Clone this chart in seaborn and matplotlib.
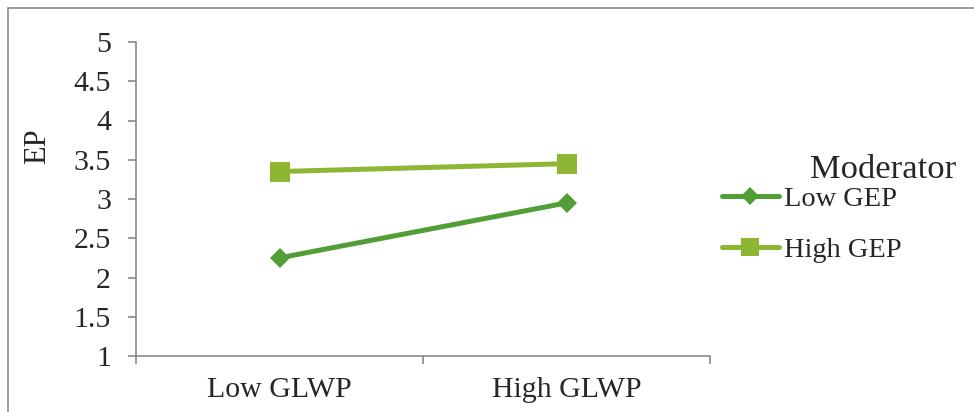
import matplotlib
matplotlib.use("Agg")
import matplotlib.pyplot as plt
from matplotlib.lines import Line2D
from matplotlib.patches import Rectangle
import pandas as pd
import seaborn as sns

# Simple-slopes data: EP by GLWP level for each moderator level
glwp_levels = ["Low GLWP", "High GLWP"]
moderator_levels = ["Low GEP", "High GEP"]
low_gep_ep = [2.25, 2.95]
high_gep_ep = [3.35, 3.45]
y_ticks = [1, 1.5, 2, 2.5, 3, 3.5, 4, 4.5, 5]
y_tick_labels = ["1", "1.5", "2", "2.5", "3", "3.5", "4", "4.5", "5"]

colors = {"Low GEP": "#529E36", "High GEP": "#8DB733"}
markers = {"Low GEP": "D", "High GEP": "s"}
marker_sizes = {"Low GEP": 10, "High GEP": 15}

df = pd.DataFrame({
    "GLWP": glwp_levels * 2,
    "EP": low_gep_ep + high_gep_ep,
    "Moderator": [moderator_levels[0]] * 2 + [moderator_levels[1]] * 2,
})

sns.set_theme(style="white")
plt.rcParams["font.family"] = ["Liberation Serif", "DejaVu Serif"]

fig = plt.figure(figsize=(9.74, 4.12), dpi=100)
ax = fig.add_axes([136 / 974, 56 / 412, 574 / 974, 314 / 412])

axis_gray = "#898989"

sns.pointplot(
    data=df, x="GLWP", y="EP", hue="Moderator",
    order=glwp_levels, hue_order=moderator_levels,
    palette=colors, markers=[markers[m] for m in moderator_levels],
    linestyles=["-", "-"], errorbar=None, dodge=False,
    linewidth=3.6, ax=ax, legend=False,
)

# per-series marker sizes
for line in ax.lines:
    for m in moderator_levels:
        if line.get_marker() == markers[m]:
            line.set_markersize(marker_sizes[m])
            line.set_markeredgewidth(0)
            line.set_solid_capstyle("round")

ax.set_xlim(-0.5, 1.5)
ax.set_ylim(1, 5)
ax.set_yticks(y_ticks)
ax.set_yticklabels(y_tick_labels)

# category boundaries as major ticks, labels on centred minor ticks
ax.set_xticks([-0.5, 0.5, 1.5])
ax.set_xticklabels([])
ax.set_xticks([0, 1], minor=True)
ax.set_xticklabels(glwp_levels, minor=True)

ax.tick_params(axis="y", which="major", direction="out", length=6, width=1.2,
               color=axis_gray, labelsize=21.5, pad=12, left=True)
ax.tick_params(axis="x", which="major", direction="out", length=6, width=1.2,
               color=axis_gray, bottom=True)
ax.tick_params(axis="x", which="minor", length=0, labelsize=21.5, pad=15)

for side in ["top", "right"]:
    ax.spines[side].set_visible(False)
for side in ["left", "bottom"]:
    ax.spines[side].set_color(axis_gray)
    ax.spines[side].set_linewidth(1.2)

ax.set_xlabel("")
ax.set_ylabel("EP", fontsize=22)
ax.yaxis.set_label_coords(-0.147, 0.669)
ax.grid(False)

handles = [
    Line2D([], [], color=colors[m], marker=markers[m], markersize=marker_sizes[m] * 0.9,
           markeredgewidth=0, linewidth=3.6, solid_capstyle="round")
    for m in moderator_levels
]
fig.legend(handles, moderator_levels, loc="upper left",
           bbox_to_anchor=(722 / 974, 1 - 186 / 412), frameon=False,
           fontsize=20.4, borderpad=0, borderaxespad=0, handlelength=2.0,
           handletextpad=0.18, labelspacing=0.88)
fig.text(810 / 974, 1 - 178 / 412, "Moderator", fontsize=24.8,
         ha="left", va="baseline")

# chart-area outline
fig.patches.append(Rectangle((8 / 974, -0.2), 1.2, 1.2 - 8 / 412,
                             transform=fig.transFigure, fill=False,
                             edgecolor=axis_gray, linewidth=1.2))

fig.savefig("out.png", dpi=100, facecolor="white")
